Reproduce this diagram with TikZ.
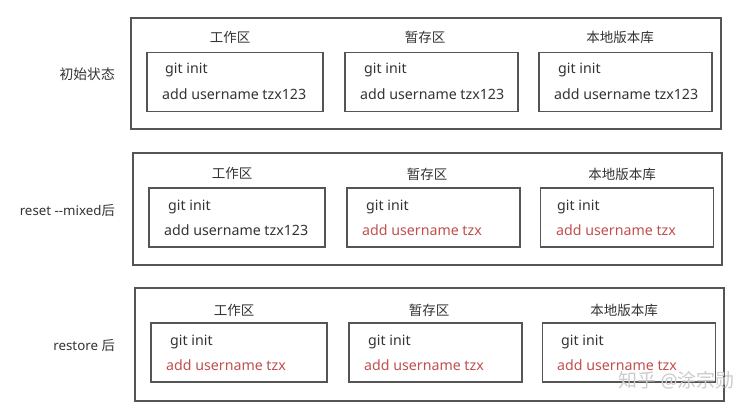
\documentclass[tikz,border=0pt]{standalone}
\usepackage{fontspec}
\setmainfont{Noto Sans}
\newfontfamily\cjk{Noto Sans CJK SC}
\definecolor{txt}{HTML}{333333}
\definecolor{bord}{HTML}{555555}
\definecolor{redtxt}{RGB}{192,80,77}
\begin{document}
\begin{tikzpicture}[x=1pt,y=-1pt,
  outerbox/.style={draw=bord,line width=1.4pt,minimum height=#1,inner sep=0pt},
  innerbox/.style={draw=bord,line width=1.4pt,minimum height=59pt,inner sep=0pt},
  ztitle/.style={font=\cjk\fontsize{13.5}{15}\selectfont,text=txt,inner sep=0pt},
  codeline/.style={font=\fontsize{14.2}{16}\selectfont,text=txt,anchor=west,inner sep=0pt},
  redline/.style={codeline,text=redtxt},
  rowlabel/.style={font=\fontsize{13.3}{15}\selectfont,text=txt,anchor=east,inner sep=0pt},
  wmark/.style={font=\cjk\fontsize{19}{22}\selectfont,text=gray!40,inner sep=0pt}]
\useasboundingbox (0,0) rectangle (741,410);
\fill[white] (0,0) rectangle (741,410);

% Row 1
\node[outerbox=111pt,minimum width=590pt] (o1) at (426,73.5) {};
\node[innerbox,minimum width=176pt] (a1) at (235,82) {};
\node[innerbox,minimum width=173pt] (b1) at (431.5,82) {};
\node[innerbox,minimum width=173pt] (c1) at (625.5,82) {};
\node[ztitle] (ta1) at (230,37) {工作区};
\node[ztitle] (tb1) at (425,37) {暂存区};
\node[ztitle] (tc1) at (620,37) {本地版本库};
\node[codeline] (ga1) at (165,70) {git init};
\node[codeline] (aa1) at (162,94) {add username tzx123};
\node[codeline] (gb1) at (364,70) {git init};
\node[codeline] (ab1) at (360,94) {add username tzx123};
\node[codeline] (gc1) at (558,70) {git init};
\node[codeline] (ac1) at (554,94) {add username tzx123};
\node[rowlabel,font=\cjk\fontsize{13.8}{15}\selectfont] (l1) at (115,74) {初始状态};

% Row 2
\node[outerbox=112pt,minimum width=589pt] (o2) at (427.5,209) {};
\node[innerbox,minimum width=176pt] (a2) at (237,217.5) {};
\node[innerbox,minimum width=173pt] (b2) at (433.5,217.5) {};
\node[innerbox,minimum width=173pt] (c2) at (627,217.5) {};
\node[ztitle] (ta2) at (232,173) {工作区};
\node[ztitle] (tb2) at (427,174) {暂存区};
\node[ztitle] (tc2) at (622,174) {本地版本库};
\node[codeline] (ga2) at (168,207) {git init};
\node[codeline] (aa2) at (164,230) {add username tzx123};
\node[codeline] (gb2) at (366,207) {git init};
\node[redline] (ab2) at (362,230) {add username tzx};
\node[codeline] (gc2) at (557,207) {git init};
\node[redline] (ac2) at (556,230) {add username tzx};
\node[rowlabel] (l2) at (115,211) {reset -{}-mixed{\cjk 后}};

% Row 3
\node[outerbox=113pt,minimum width=589pt] (o3) at (429.5,344.5) {};
\node[innerbox,minimum width=176pt] (a3) at (239,352.5) {};
\node[innerbox,minimum width=173pt] (b3) at (435.5,352.5) {};
\node[innerbox,minimum width=173pt] (c3) at (629,352.5) {};
\node[ztitle] (ta3) at (234,310) {工作区};
\node[ztitle] (tb3) at (429,310) {暂存区};
\node[ztitle] (tc3) at (624,310) {本地版本库};
\node[codeline] (ga3) at (170,342) {git init};
\node[redline] (aa3) at (166,365) {add username tzx};
\node[codeline] (gb3) at (368,342) {git init};
\node[redline] (ab3) at (364,365) {add username tzx};
\node[codeline] (gc3) at (561,342) {git init};
\node[redline] (ac3) at (557,365) {add username tzx};
\node[rowlabel] (l3) at (115,346) {restore {\cjk 后}};

% watermark
\node[wmark,anchor=east] (wm) at (735,380) {知乎 {\fontspec{Noto Sans}@}涂宗勋};
\end{tikzpicture}
\end{document}
